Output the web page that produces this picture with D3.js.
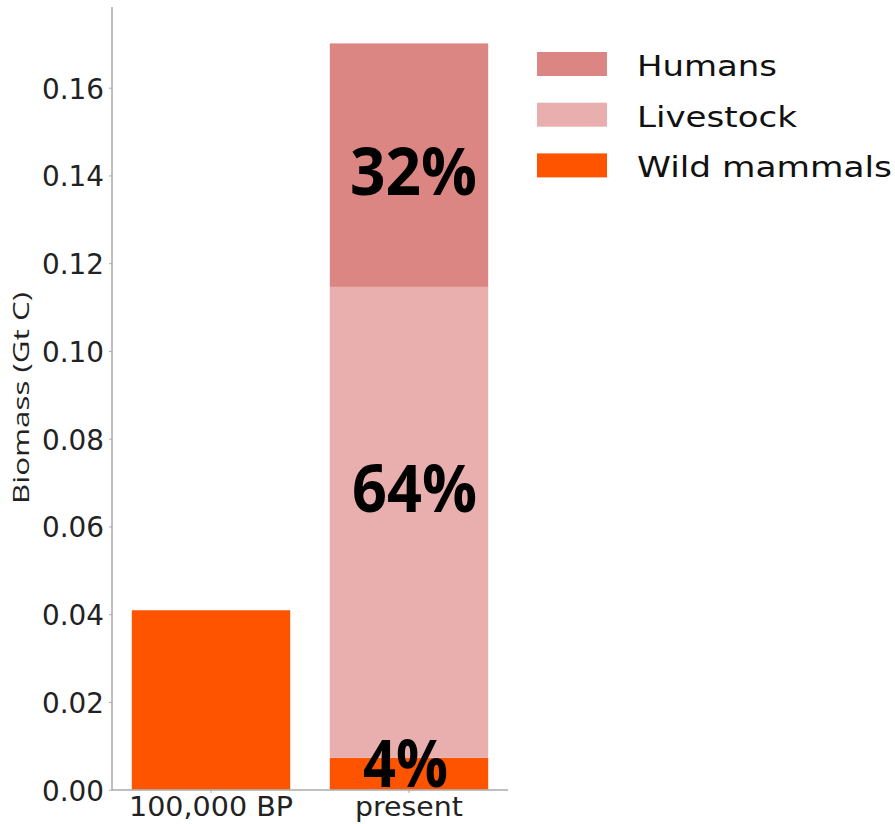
<!DOCTYPE html>
<html><head><meta charset="utf-8">
<script src="https://cdn.jsdelivr.net/npm/d3@7"></script>
<style>body{margin:0;background:#fff}</style>
</head><body>
<svg id="c" width="895" height="824"></svg>
<script>
const categories = ["100,000 BP", "present"];
const seriesNames = ["Wild mammals", "Livestock", "Humans"];
const wildMammals = [0.0409, 0.0073];
const livestock = [0, 0.1073];
const humans = [0, 0.0555];
const pctLabels = ["4%", "64%", "32%"];
const yTicks = [0, 0.02, 0.04, 0.06, 0.08, 0.10, 0.12, 0.14, 0.16];
const colors = {"Wild mammals": "#fe5400", "Livestock": "#e8afae", "Humans": "#dc8684"};
const legendOrder = ["Humans", "Livestock", "Wild mammals"];

const svg = d3.select("#c");
const y = d3.scaleLinear().domain([0, 0.16]).range([789.7, 87.7]);
const x = d3.scaleBand().domain(categories).range([112, 508]).paddingInner(0.2).paddingOuter(0.1);

const rows = categories.map((c, i) => ({cat: c, "Wild mammals": wildMammals[i], "Livestock": livestock[i], "Humans": humans[i]}));
const stack = d3.stack().keys(seriesNames)(rows);

stack.forEach(layer => {
  svg.append("g").selectAll("rect").data(layer).join("rect")
    .attr("x", d => x(d.data.cat))
    .attr("width", x.bandwidth())
    .attr("y", d => y(d[1]))
    .attr("height", d => Math.max(0, y(d[0]) - y(d[1])))
    .attr("fill", colors[layer.key]);
});

// axes
const yAxis = d3.axisLeft(y).tickValues(yTicks).tickFormat(d3.format(".2f")).tickSize(3).tickPadding(5);
const gy = svg.append("g").attr("transform", "translate(112,0)").call(yAxis);
gy.select(".domain").remove();
gy.append("line").attr("x1", 0).attr("x2", 0).attr("y1", 7).attr("y2", 790).attr("stroke", "#aaa").attr("stroke-width", 1.5);
gy.selectAll(".tick line").attr("stroke", "#aaa");
gy.selectAll(".tick text").attr("font-family", "DejaVu Sans").attr("font-size", 29).attr("fill", "#222")
  .attr("dy", "0.36em").attr("textLength", 62).attr("lengthAdjust", "spacingAndGlyphs");

const xAxis = d3.axisBottom(x).tickSize(3).tickPadding(3);
const gx = svg.append("g").attr("transform", "translate(0,790)").call(xAxis);
gx.select(".domain").remove();
gx.append("line").attr("x1", 112).attr("x2", 508).attr("stroke", "#aaa").attr("stroke-width", 1.5);
gx.selectAll(".tick line").attr("stroke", "#aaa");
gx.selectAll(".tick text").attr("font-family", "DejaVu Sans").attr("font-size", 27).attr("fill", "#222")
  .attr("y", 26).attr("dy", null)
  .attr("textLength", (d, i) => i === 0 ? 164 : 108).attr("lengthAdjust", "spacingAndGlyphs");

svg.append("text").attr("transform", "translate(29,398) rotate(-90)").attr("text-anchor", "middle")
  .attr("font-family", "Open Sans").attr("font-size", 21).attr("fill", "#222")
  .attr("textLength", 212).attr("lengthAdjust", "spacingAndGlyphs").text("Biomass (Gt C)");

// percentage labels (present bar): baselines offset from segment edges
const presentIdx = 1;
const pctCenters = [405.5, 414.5, 413.5];
const pctWidths = [85, 125, 127];
const pctBaselineOffset = [-3, -10, 30];
stack.forEach((layer, li) => {
  const d = layer[presentIdx];
  const yy = (li === 0 ? y(d[0]) : (y(d[0]) + y(d[1])) / 2) + pctBaselineOffset[li];
  svg.append("text").attr("x", pctCenters[li]).attr("y", yy)
    .attr("text-anchor", "middle").attr("font-family", "Open Sans").attr("font-weight", "bold")
    .attr("font-size", 67).attr("fill", "#000")
    .attr("textLength", pctWidths[li]).attr("lengthAdjust", "spacingAndGlyphs").text(pctLabels[li]);
});

// legend
const lg = svg.append("g");
const legendWidths = [140, 160, 255];
legendOrder.forEach((k, i) => {
  const yy = 52 + i * 50.7;
  lg.append("rect").attr("x", 537).attr("y", yy).attr("width", 70).attr("height", 24).attr("fill", colors[k]);
  lg.append("text").attr("x", 637).attr("y", yy + 24).attr("font-family", "DejaVu Sans")
    .attr("font-size", 29).attr("fill", "#111")
    .attr("textLength", legendWidths[i]).attr("lengthAdjust", "spacingAndGlyphs").text(k);
});
</script>
</body></html>
